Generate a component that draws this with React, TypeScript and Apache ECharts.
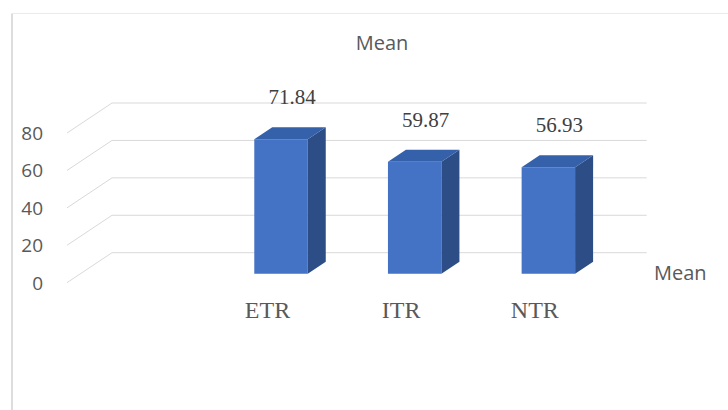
import React, { useEffect, useRef } from "react";
import * as echarts from "echarts";

// Categories (first slot left empty, as in the source workbook) and mean scores
const CATEGORIES = ["", "ETR", "ITR", "NTR"];
const MEANS: (number | null)[] = [null, 71.84, 59.87, 56.93];
const Y_TICKS = [0, 20, 40, 60, 80];
const SERIES_NAME = "Mean";

// Pseudo-3D projection of the walls and columns
const DEPTH_X = 45;
const DEPTH_Y = -30;
const BAR_FRONT = 0.3; // fraction of the depth where the column front sits
const BAR_DEPTH = 0.4; // fraction of the depth the column occupies
const BAR_WIDTH = 0.4; // fraction of a category band

const SANS = "'Open Sans', 'DejaVu Sans', sans-serif";
const SERIF = "'Liberation Serif', 'Times New Roman', serif";

export default function App() {
  const ref = useRef<HTMLDivElement>(null);

  useEffect(() => {
    if (!ref.current) return;
    const chart = echarts.init(ref.current, undefined, { renderer: "svg" });

    const barData = CATEGORIES.map((c, i) => [i, MEANS[i]]).filter(
      (d) => d[1] != null
    );

    const renderWalls = (params: any, api: any) => {
      const cs = params.coordSys;
      const y = api.coord([0, api.value(1)])[1];
      const left = cs.x;
      const right = cs.x + cs.width;
      return {
        type: "polyline",
        shape: {
          points: [
            [left, y],
            [left + DEPTH_X, y + DEPTH_Y],
            [right + DEPTH_X, y + DEPTH_Y],
          ],
        },
        style: { stroke: "#d9d9d9", lineWidth: 1, fill: "none" },
      };
    };

    const renderBar = (params: any, api: any) => {
      const v = api.value(1);
      if (v == null || isNaN(v)) return null;
      const idx = api.value(0);
      const base = api.coord([idx, 0]);
      const top = api.coord([idx, v]);
      const band = api.size([1, 0])[0];
      const w = band * BAR_WIDTH;
      const ox = DEPTH_X * BAR_FRONT;
      const oy = DEPTH_Y * BAR_FRONT;
      const dx = DEPTH_X * BAR_DEPTH;
      const dy = DEPTH_Y * BAR_DEPTH;
      const x0 = base[0] - w / 2 + ox;
      const x1 = x0 + w;
      const yb = base[1] + oy;
      const yt = top[1] + oy;
      return {
        type: "group",
        children: [
          {
            type: "polygon",
            shape: { points: [[x0, yb], [x0, yt], [x1, yt], [x1, yb]] },
            style: { fill: "#4472C4" },
          },
          {
            type: "polygon",
            shape: {
              points: [
                [x1, yt],
                [x1 + dx, yt + dy],
                [x1 + dx, yb + dy],
                [x1, yb],
              ],
            },
            style: { fill: "#2C4D86" },
          },
          {
            type: "polygon",
            shape: {
              points: [
                [x0, yt],
                [x0 + dx, yt + dy],
                [x1 + dx, yt + dy],
                [x1, yt],
              ],
            },
            style: { fill: "#3560AA" },
          },
          {
            type: "text",
            style: {
              text: v.toFixed(2),
              x: x0 + w / 2 + dx / 2 + 2,
              y: yt + dy - 30,
              align: "center",
              verticalAlign: "middle",
              fontFamily: SERIF,
              fontSize: 21,
              fill: "#404040",
            },
          },
        ],
      };
    };

    chart.setOption({
      animation: false,
      backgroundColor: "#ffffff",
      title: {
        text: "Mean",
        left: 377,
        top: 27,
        textAlign: "center",
        textStyle: {
          fontFamily: SANS,
          fontSize: 20,
          fontWeight: "normal",
          color: "#595959",
        },
      },
      legend: {
        data: [SERIES_NAME],
        icon: "none",
        itemWidth: 0,
        left: 644,
        top: 257,
        textStyle: { fontFamily: SANS, fontSize: 20, color: "#595959" },
      },
      graphic: [
        {
          type: "line",
          shape: { x1: 12, y1: 13.5, x2: 12, y2: 420 },
          style: { stroke: "#dddddd", lineWidth: 2 },
          silent: true,
        },
        {
          type: "line",
          shape: { x1: 11, y1: 13.5, x2: 740, y2: 13.5 },
          style: { stroke: "#ebebeb", lineWidth: 1 },
          silent: true,
        },
      ],
      grid: { left: 67, top: 133, width: 534.7, height: 149.7 },
      xAxis: {
        type: "category",
        data: CATEGORIES,
        axisLine: { show: false },
        axisTick: { show: false },
        splitLine: { show: false },
        axisLabel: {
          fontFamily: SERIF,
          fontSize: 24,
          color: "#595959",
          margin: 15,
        },
      },
      yAxis: {
        type: "value",
        min: 0,
        max: 80,
        interval: 20,
        axisLine: { show: false },
        axisTick: { show: false },
        splitLine: { show: false },
        axisLabel: {
          fontFamily: SANS,
          fontSize: 19,
          color: "#595959",
          margin: 24,
        },
      },
      series: [
        {
          name: "walls",
          type: "custom",
          renderItem: renderWalls,
          data: Y_TICKS.map((t) => [0, t]),
          silent: true,
          z: 1,
        },
        {
          name: SERIES_NAME,
          type: "custom",
          renderItem: renderBar,
          data: barData,
          itemStyle: { color: "#4472C4" },
          z: 2,
        },
      ],
    });

    return () => chart.dispose();
  }, []);

  return (
    <div
      ref={ref}
      style={{ position: "fixed", left: 0, top: 0, width: 728, height: 410 }}
    />
  );
}
